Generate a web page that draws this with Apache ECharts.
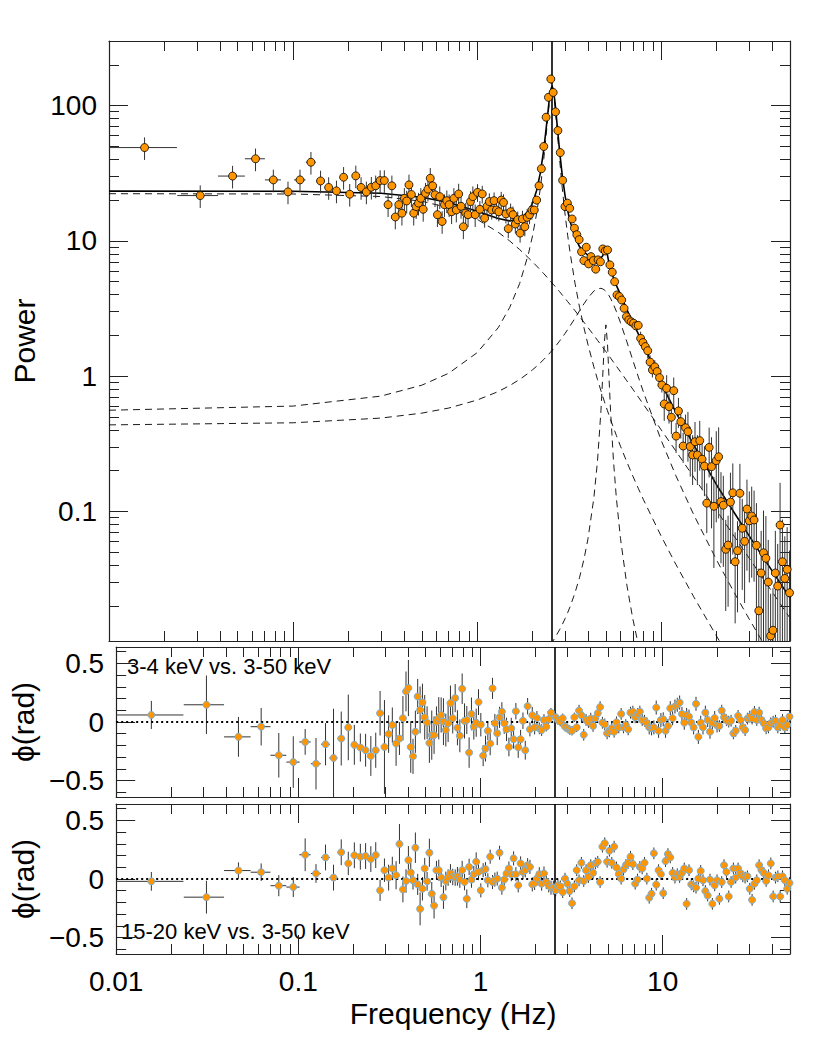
<!DOCTYPE html>
<html>
<head>
<meta charset="utf-8"/>
<title>Power and lag spectra</title>
<script src="https://cdn.jsdelivr.net/npm/echarts@6/dist/echarts.min.js"></script>
</head>
<body style="margin:0;background:#fff;">
<div id="chart" style="width:830px;height:1039px;"></div>
<script>
// frequency bins (Hz), shared by the three panels
var freqs = [
  0.0156, 0.0313, 0.0469, 0.0625, 0.0781, 0.0938, 0.109, 0.125, 0.141, 0.156, 0.172, 0.188,
  0.203, 0.219, 0.234, 0.25, 0.266, 0.281, 0.297, 0.313, 0.328, 0.344, 0.359, 0.375,
  0.390, 0.402, 0.414, 0.426, 0.439, 0.452, 0.466, 0.480, 0.494, 0.509, 0.524, 0.540,
  0.556, 0.573, 0.590, 0.608, 0.626, 0.645, 0.664, 0.684, 0.704, 0.726, 0.747, 0.770,
  0.793, 0.817, 0.841, 0.866, 0.892, 0.919, 0.947, 0.975,
  1.004, 1.034, 1.065, 1.097, 1.130, 1.164, 1.199, 1.235, 1.272, 1.310, 1.350, 1.390,
  1.432, 1.475, 1.519, 1.564, 1.611, 1.660, 1.710, 1.761, 1.814, 1.868, 1.924, 1.982,
  2.041, 2.103, 2.166, 2.231, 2.298, 2.366, 2.437, 2.511,
  2.586, 2.663, 2.743, 2.826, 2.910, 2.998, 3.088, 3.180, 3.276, 3.374, 3.475, 3.579,
  3.687, 3.797, 3.911, 4.029, 4.149, 4.274, 4.402, 4.534, 4.670, 4.810, 4.955, 5.103,
  5.256, 5.414, 5.577, 5.744, 5.916, 6.094, 6.276, 6.465, 6.659, 6.859, 7.064, 7.276,
  7.494, 7.719, 7.951, 8.189, 8.435, 8.688, 8.949, 9.217, 9.494, 9.779,
  10.07, 10.37, 10.69, 11.01, 11.34, 11.68, 12.03, 12.39, 12.76, 13.14, 13.54, 13.95,
  14.36, 14.79, 15.24, 15.70, 16.17, 16.65, 17.15, 17.66, 18.19, 18.74, 19.30, 19.88,
  20.48, 21.09, 21.72, 22.38, 23.05, 23.74, 24.45, 25.18, 25.94, 26.72, 27.52, 28.34,
  29.19, 30.07, 30.97, 31.90, 32.86, 33.84, 34.86, 35.90, 36.98, 38.09, 39.23, 40.41,
  41.62, 42.87, 44.16, 45.48, 46.85, 48.25, 49.70
];
var linearBinCount = 24;     // the lowest bins are 1/64 Hz wide
var linearBinHalf = 0.0078;

// power spectrum
var power = [
  48.9, 21.6, 30.1, 40.4, 28.2, 23.0, 28.2, 38.1, 27.7, 24.8, 23.4, 29.5,
  22.1, 30.2, 24.8, 23.0, 24.9, 25.5, 27.9, 27.9, 18.5, 25.5, 15.0, 18.5,
  16.0, 20.6, 19.7, 25.9, 22.0, 16.0, 17.9, 19.0, 20.6, 17.1, 22.5, 24.1,
  29.0, 25.5, 21.9, 15.6, 21.2, 13.9, 18.5, 19.8, 18.5, 16.4, 20.6, 16.9,
  22.2, 18.0, 12.7, 16.0, 15.6, 19.5, 21.2, 15.6,
  22.8, 17.1, 22.2, 14.7, 18.0, 19.5, 16.9, 19.8, 16.9, 16.4, 20.0, 19.2,
  15.8, 12.3, 16.4, 15.6, 13.3, 14.3, 11.4, 14.5, 12.7, 14.9, 15.6, 16.9,
  16.9, 20.0, 25.5, 34.1, 49.8, 82.0, 115, 157,
  125, 89.8, 65.3, 44.9, 28.0, 17.9, 19.0, 17.4, 14.5, 12.4, 11.1, 10.2,
  8.3, 7.14, 8.97, 6.75, 7.64, 7.14, 6.17, 7.23, 7.0, 8.71, 8.41, 8.56,
  6.64, 5.86, 4.99, 3.98, 3.87, 3.65, 3.17, 2.75, 2.60, 2.52, 2.46, 2.35,
  2.37, 1.90, 1.77, 1.65, 1.54, 1.27, 1.11, 1.17, 1.08, 0.973,
  0.859, 0.622, 0.812, 0.594, 0.496, 0.780, 0.360, 0.552, 0.460, 0.304, 0.415, 0.388,
  0.301, 0.261, 0.327, 0.261, 0.333, 0.243, 0.216, 0.115, 0.297, 0.214, 0.109, 0.237,
  0.253, 0.118, 0.111, 0.0524, 0.0563, 0.117, 0.137, 0.0424, 0.0512, 0.136, 0.075, 0.060,
  0.104, 0.0851, 0.0923, 0.0863, 0.0561, 0.0184, 0.035, 0.0494, 0.045, 0.030, 0.0120, 0.0132,
  0.035, 0.028, 0.0792, 0.0424, 0.0319, 0.0372, 0.025
];
// one-sigma error as a fraction of the power
var powerRelErr = [
  0.19, 0.19, 0.19, 0.19, 0.19, 0.19, 0.19, 0.19, 0.19, 0.19, 0.19, 0.19,
  0.19, 0.19, 0.19, 0.19, 0.19, 0.19, 0.19, 0.19, 0.19, 0.19, 0.19, 0.19,
  0.19, 0.19, 0.19, 0.19, 0.19, 0.19, 0.19, 0.19, 0.19, 0.19, 0.19, 0.19,
  0.19, 0.19, 0.19, 0.19, 0.19, 0.19, 0.19, 0.19, 0.19, 0.19, 0.19, 0.19,
  0.19, 0.19, 0.19, 0.19, 0.19, 0.19, 0.19, 0.19,
  0.15, 0.15, 0.15, 0.15, 0.15, 0.15, 0.15, 0.15, 0.15, 0.15, 0.15, 0.15,
  0.15, 0.15, 0.15, 0.15, 0.15, 0.15, 0.15, 0.15, 0.15, 0.15, 0.15, 0.15,
  0.07, 0.07, 0.07, 0.07, 0.07, 0.07, 0.07, 0.07,
  0.07, 0.07, 0.07, 0.07, 0.07, 0.07, 0.07, 0.05, 0.05, 0.05, 0.05, 0.05,
  0.05, 0.05, 0.05, 0.05, 0.05, 0.05, 0.05, 0.05, 0.05, 0.05, 0.05, 0.05,
  0.05, 0.05, 0.05, 0.05, 0.05, 0.05, 0.05, 0.05, 0.05, 0.05, 0.05, 0.05,
  0.05, 0.12, 0.12, 0.12, 0.12, 0.12, 0.12, 0.12, 0.12, 0.12,
  0.12, 0.25, 0.25, 0.25, 0.25, 0.25, 0.25, 0.25, 0.25, 0.25, 0.25, 0.40,
  0.40, 0.40, 0.40, 0.40, 0.40, 0.40, 0.40, 0.40, 0.40, 0.65, 0.65, 0.65,
  0.65, 0.65, 0.65, 0.65, 0.65, 0.65, 0.65, 0.65, 0.65, 0.65, 0.65, 0.65,
  0.65, 0.65, 0.65, 0.65, 1.05, 1.05, 1.05, 1.05, 1.05, 1.05, 1.05, 1.05,
  1.05, 1.05, 1.05, 1.05, 1.05, 1.05, 1.05
];

// lag of 3-4 keV against 3-50 keV (rad)
var lagSoft = [
  0.060, 0.147, -0.127, -0.040, -0.284, -0.342, -0.170, -0.356, -0.190, -0.307, -0.141, -0.046,
  -0.195, -0.218, -0.241, -0.290, -0.241, 0.075, -0.213, -0.103, -0.026, -0.184, -0.141, 0.032,
  0.261, 0.290, -0.213, -0.293, -0.083, 0.218, 0.103, 0.167, 0.040, -0.006, -0.179, -0.112,
  -0.112, 0.003, 0.032, 0.060, 0.003, -0.069, -0.011, 0.161, 0.032, 0.204, -0.049, -0.118,
  0.284, 0.009, 0.017, -0.261, 0.069, -0.040, -0.006, 0.170,
  -0.023, -0.287, -0.227, -0.075, -0.184, 0.287, -0.011, -0.097, 0.040, 0.089, -0.011, -0.063,
  -0.213, -0.054, -0.147, 0.092, -0.216, -0.147, 0.011, -0.241, 0.135, -0.063, 0.058, -0.046,
  0.034, -0.054, -0.069, 0.017, -0.040, 0.023, 0.080, null,
  0.040, 0.017, 0.003, 0.032, -0.040, -0.054, -0.069, -0.075, 0.040, -0.046, 0.097, 0.058,
  -0.109, 0.017, 0.000, 0.029, -0.034, 0.032, 0.075, 0.127, -0.006, -0.020, -0.097, -0.080,
  -0.054, -0.083, -0.003, -0.046, 0.069, -0.046, -0.026, -0.063, 0.080, 0.089, 0.040, 0.069,
  0.089, 0.017, 0.011, -0.011, -0.046, -0.054, -0.046, 0.123, -0.075, 0.017,
  0.023, -0.075, -0.034, 0.118, 0.032, 0.132, 0.147, 0.166, 0.069, -0.006, 0.060, 0.046,
  -0.006, -0.046, 0.155, -0.127, -0.006, -0.046, 0.080, 0.017, -0.083, -0.006, 0.034, -0.029,
  -0.034, 0.097, 0.040, 0.017, 0.003, 0.011, -0.097, -0.075, 0.052, 0.017, -0.046, -0.069,
  0.029, 0.046, 0.029, 0.086, 0.017, 0.080, 0.017, -0.011, -0.054, -0.046, -0.011, 0.003,
  0.011, -0.046, -0.026, 0.017, -0.046, -0.026, 0.046
];
var lagSoftErr = [
  0.12, 0.25, 0.17, 0.16, 0.19, 0.22, 0.11, 0.22, 0.18, 0.42, 0.23, 0.28,
  0.17, 0.12, 0.14, 0.17, 0.15, 0.19, 0.40, 0.16, 0.15, 0.19, 0.14, 0.19,
  0.17, 0.24, 0.22, 0.15, 0.18, 0.15, 0.20, 0.16, 0.19, 0.14, 0.17, 0.21,
  0.16, 0.13, 0.18, 0.15, 0.20, 0.14, 0.16, 0.15, 0.13, 0.12, 0.15, 0.14,
  0.13, 0.15, 0.12, 0.13, 0.14, 0.11, 0.12, 0.11,
  0.10, 0.09, 0.11, 0.08, 0.10, 0.09, 0.08, 0.10, 0.09, 0.08, 0.09, 0.10,
  0.08, 0.09, 0.08, 0.07, 0.09, 0.08, 0.07, 0.08, 0.07, 0.06, 0.07, 0.06,
  0.06, 0.05, 0.05, 0.05, 0.04, 0.04, 0.04, 0.04,
  0.04, 0.04, 0.04, 0.04, 0.04, 0.04, 0.04, 0.04, 0.04, 0.04, 0.05, 0.05,
  0.05, 0.05, 0.05, 0.05, 0.05, 0.05, 0.05, 0.05, 0.05, 0.05, 0.05, 0.05,
  0.05, 0.05, 0.05, 0.05, 0.05, 0.05, 0.05, 0.05, 0.05, 0.05, 0.05, 0.05,
  0.05, 0.05, 0.05, 0.05, 0.06, 0.06, 0.06, 0.06, 0.06, 0.06,
  0.06, 0.06, 0.06, 0.06, 0.06, 0.06, 0.06, 0.06, 0.06, 0.06, 0.06, 0.06,
  0.06, 0.06, 0.06, 0.06, 0.06, 0.06, 0.06, 0.06, 0.06, 0.06, 0.06, 0.06,
  0.05, 0.05, 0.05, 0.05, 0.05, 0.05, 0.05, 0.05, 0.05, 0.05, 0.05, 0.05,
  0.05, 0.05, 0.05, 0.05, 0.05, 0.05, 0.05, 0.05, 0.05, 0.05, 0.05, 0.05,
  0.05, 0.05, 0.05, 0.05, 0.05, 0.05, 0.05
];

// lag of 15-20 keV against 3-50 keV (rad)
var lagHard = [
  -0.020, -0.155, 0.072, 0.058, -0.057, -0.069, 0.207, 0.047, 0.184, 0.012, 0.228, 0.133,
  0.202, 0.190, 0.196, 0.170, 0.204, -0.097, 0.075, 0.012, 0.090, 0.032, 0.299, -0.089,
  -0.017, 0.161, 0.055, -0.011, 0.267, -0.046, -0.255, -0.083, 0.090, -0.020, 0.224, -0.126,
  -0.227, 0.075, 0.075, 0.012, -0.155, -0.017, 0.012, 0.047, 0.017, 0.012, 0.023, -0.005,
  0.075, -0.026, -0.169, 0.103, -0.005, 0.041, 0.147, 0.060,
  -0.097, 0.075, 0.084, -0.011, 0.190, -0.026, -0.005, 0.003, 0.224, -0.074, -0.005, 0.047,
  0.090, 0.041, 0.176, 0.041, -0.054, 0.133, 0.060, 0.075, 0.118, 0.103, -0.046, -0.034,
  0.003, 0.041, -0.040, 0.047, -0.026, -0.054, -0.074, -0.074,
  -0.097, -0.054, -0.063, -0.112, 0.003, -0.040, -0.103, -0.207, -0.063, 0.075, -0.011, 0.138,
  -0.017, 0.075, 0.017, 0.118, 0.052, 0.133, 0.147, -0.026, 0.276, 0.305, 0.147, 0.241,
  0.138, 0.276, 0.098, 0.041, 0.003, 0.081, 0.118, 0.138, 0.190, 0.127, -0.040, -0.005,
  0.103, 0.090, 0.138, 0.003, -0.160, -0.126, 0.219, -0.048, 0.075, 0.041,
  -0.121, 0.153, 0.213, 0.184, 0.052, 0.012, 0.041, 0.017, 0.052, 0.090, -0.212, 0.075,
  -0.046, -0.063, -0.074, 0.003, 0.069, -0.011, -0.103, -0.141, -0.005, -0.212, -0.054, -0.011,
  -0.169, -0.026, 0.118, 0.060, -0.149, -0.026, 0.090, 0.012, 0.090, 0.047, 0.023, 0.012,
  0.023, -0.083, -0.178, -0.040, -0.011, 0.118, 0.075, 0.052, -0.017, 0.032, 0.133, -0.149,
  0.012, 0.023, -0.149, 0.023, -0.011, -0.083, -0.034
];
var lagHardErr = [
  0.08, 0.14, 0.07, 0.075, 0.09, 0.085, 0.14, 0.08, 0.11, 0.11, 0.11, 0.10,
  0.11, 0.11, 0.11, 0.11, 0.11, 0.09, 0.10, 0.11, 0.10, 0.12, 0.17, 0.11,
  0.10, 0.12, 0.09, 0.08, 0.13, 0.09, 0.14, 0.10, 0.09, 0.08, 0.12, 0.10,
  0.11, 0.08, 0.09, 0.08, 0.10, 0.08, 0.07, 0.08, 0.07, 0.07, 0.08, 0.07,
  0.08, 0.07, 0.08, 0.07, 0.07, 0.07, 0.08, 0.07,
  0.06, 0.06, 0.06, 0.06, 0.06, 0.06, 0.06, 0.06, 0.06, 0.06, 0.06, 0.06,
  0.06, 0.06, 0.06, 0.06, 0.06, 0.06, 0.06, 0.06, 0.06, 0.06, 0.06, 0.06,
  0.06, 0.06, 0.06, 0.06, 0.06, 0.06, 0.06, 0.06,
  0.05, 0.05, 0.05, 0.05, 0.05, 0.05, 0.05, 0.05, 0.05, 0.05, 0.05, 0.05,
  0.05, 0.05, 0.05, 0.05, 0.05, 0.05, 0.05, 0.05, 0.05, 0.05, 0.05, 0.05,
  0.05, 0.05, 0.05, 0.05, 0.05, 0.05, 0.05, 0.05, 0.05, 0.05, 0.05, 0.05,
  0.05, 0.05, 0.05, 0.05, 0.05, 0.05, 0.05, 0.05, 0.05, 0.05,
  0.05, 0.05, 0.05, 0.05, 0.05, 0.05, 0.05, 0.05, 0.05, 0.05, 0.05, 0.05,
  0.05, 0.05, 0.05, 0.05, 0.05, 0.05, 0.05, 0.05, 0.05, 0.05, 0.05, 0.05,
  0.05, 0.05, 0.05, 0.05, 0.05, 0.05, 0.05, 0.05, 0.05, 0.05, 0.05, 0.05,
  0.05, 0.05, 0.05, 0.05, 0.05, 0.05, 0.05, 0.05, 0.05, 0.05, 0.05, 0.05,
  0.05, 0.05, 0.05, 0.05, 0.05, 0.05, 0.05
];

// best-fit model curves (Hz, power)
var modelFreq = [0.01, 0.1, 0.3, 0.5, 0.7, 1.0, 1.3, 1.5, 1.7, 1.9, 2.0, 2.1, 2.2, 2.3, 2.4, 2.45,
  2.5, 2.55, 2.6, 2.65, 2.7, 2.8, 2.9, 3.0, 3.1, 3.2, 3.4, 3.6, 3.8, 4.0, 4.3, 4.5, 4.7, 4.8, 4.9,
  5.0, 5.1, 5.2, 5.3, 5.5, 5.7, 6.0, 6.5, 7.0, 7.5, 8.0, 10, 12, 15, 20, 25, 30, 35, 40, 50];
var modelTotal = [23.30, 23.23, 22.45, 21.00, 19.20, 16.56, 14.62, 14.04, 14.39, 16.58, 19.07, 23.46,
  31.53, 47.44, 79.57, 103.9, 128.4, 139.5, 128.2, 103.6, 78.97, 46.44, 30.10, 21.60, 16.76, 13.80,
  10.58, 9.03, 8.24, 7.83, 7.55, 7.44, 7.49, 7.72, 8.31, 8.73, 7.85, 6.82, 6.15, 5.30, 4.68, 4.00,
  3.10, 2.50, 2.05, 1.70, 0.88, 0.54, 0.31, 0.156, 0.0968, 0.0659, 0.0477, 0.0363, 0.0229];
var modelBroad = [22.30, 22.18, 21.25, 19.61, 17.57, 14.40, 11.57, 9.98, 8.62, 7.48, 6.98, 6.52,
  6.10, 5.71, 5.36, 5.19, 5.03, 4.88, 4.74, 4.60, 4.46, 4.21, 3.97, 3.76, 3.55, 3.37, 3.04, 2.75,
  2.50, 2.28, 2.00, 1.84, 1.70, 1.635, 1.574, 1.515, 1.460, 1.408, 1.359, 1.267, 1.184, 1.075,
  0.922, 0.800, 0.700, 0.617, 0.399, 0.279, 0.179, 0.1011, 0.0648, 0.0451, 0.0331, 0.0254, 0.01624];
var modelQpo = [0.559, 0.600, 0.711, 0.856, 1.049, 1.490, 2.277, 3.205, 4.83, 8.05, 10.98, 15.76,
  24.18, 40.4, 72.8, 97.3, 121.9, 133.1, 121.9, 97.3, 72.8, 40.4, 24.18, 15.76, 10.98, 8.05, 4.83,
  3.205, 2.277, 1.700, 1.172, 0.945, 0.779, 0.711, 0.652, 0.600, 0.554, 0.514, 0.477, 0.415, 0.364,
  0.303, 0.2316, 0.1826, 0.1476, 0.1218, 0.0652, 0.0405, 0.02335, 0.01189, 0.00718, 0.00480,
  0.00344, 0.00258, 0.00161];
var modelHump = [0.4356, 0.4514, 0.489, 0.532, 0.580, 0.665, 0.768, 0.850, 0.944, 1.053, 1.114,
  1.180, 1.251, 1.327, 1.410, 1.454, 1.500, 1.547, 1.597, 1.648, 1.702, 1.813, 1.935, 2.066, 2.207,
  2.358, 2.681, 3.044, 3.420, 3.791, 4.249, 4.423, 4.454, 4.412, 4.334, 4.225, 4.088, 3.929, 3.756,
  3.382, 3.005, 2.482, 1.791, 1.312, 0.986, 0.760, 0.3333, 0.1832, 0.0944, 0.0434, 0.0248, 0.0160,
  0.0112, 0.00826, 0.00502];
var modelHarmonic = [null, null, null, null, null, null, null, null, null, null, null, null, null,
  null, null, null, 0.0103, 0.01075, 0.0112, 0.01168, 0.01219, 0.01331, 0.0146, 0.01609, 0.01782,
  0.01983, 0.02505, 0.0326, 0.0442, 0.0631, 0.1253, 0.234, 0.554, 0.966, 1.747, 2.391, 1.747, 0.966,
  0.554, 0.234, 0.1253, 0.0631, 0.02846, 0.01609, 0.01032, 0.0072, null, null, null, null, null,
  null, null, null, null];
var qpoFreq = 2.55;

// axes
var xMin = 0.01, xMax = 50;
var powMin = 0.011, powMax = 300;
var lagMin = -0.64, lagMax = 0.64;
var xMajorTicks = [0.01, 0.1, 1, 10];
var xMinorTicks = [0.02, 0.03, 0.04, 0.05, 0.06, 0.07, 0.08, 0.09, 0.2, 0.3, 0.4, 0.5, 0.6, 0.7,
  0.8, 0.9, 2, 3, 4, 5, 6, 7, 8, 9, 20, 30, 40];
var powMajorTicks = [0.1, 1, 10, 100];
var powMinorTicks = [0.02, 0.03, 0.04, 0.05, 0.06, 0.07, 0.08, 0.09, 0.2, 0.3, 0.4, 0.5, 0.6, 0.7,
  0.8, 0.9, 2, 3, 4, 5, 6, 7, 8, 9, 20, 30, 40, 50, 60, 70, 80, 90, 200];
var lagMajorTicks = [-0.5, 0, 0.5];
var lagMinorTicks = [-0.6, -0.4, -0.3, -0.2, -0.1, 0.1, 0.2, 0.3, 0.4, 0.6];

var fontName = '"Liberation Sans", Arial, Helvetica, sans-serif';
var frameColor = '#222';
var orange = '#ff9500';
var lagBorder = '#7eaed3';

var oChart = document.getElementById('chart');
var myChart = echarts.init(oChart, null, {renderer: 'svg'});

function tickAxis(gi, pos, type, min, max, ticks, len, showLine, extra) {
  var ax = {
    type: type, gridIndex: gi, position: pos, min: min, max: max,
    splitLine: {show: false},
    axisLine: {show: showLine, onZero: false, lineStyle: {color: frameColor, width: 1.2}},
    axisTick: {show: true, inside: true, length: len, customValues: ticks,
      lineStyle: {color: frameColor, width: 1}},
    axisLabel: {show: false}
  };
  if (type === 'log') ax.logBase = 10;
  return Object.assign(ax, extra || {});
}

function lagLabel(v) {
  if (v === 0) return '0';
  return v < 0 ? '\u2212' + Math.abs(v) : String(v);
}

var labelStyle = {fontFamily: fontName, fontSize: 28, color: '#000'};
var nameStyle = {fontFamily: fontName, fontSize: 30, color: '#000'};

var xAxes = [], yAxes = [];
for (var g = 0; g < 3; g++) {
  var mainX = {};
  if (g === 2) {
    mainX = {
      axisLabel: Object.assign({show: true, customValues: xMajorTicks, margin: 13,
        formatter: function (v) { return String(v); }}, labelStyle),
      name: 'Frequency (Hz)', nameLocation: 'middle', nameGap: 44, nameTextStyle: nameStyle
    };
  }
  xAxes.push(tickAxis(g, 'bottom', 'log', xMin, xMax, xMajorTicks, 19, true, mainX));
  xAxes.push(tickAxis(g, 'bottom', 'log', xMin, xMax, xMinorTicks, 10, false));
  xAxes.push(tickAxis(g, 'top', 'log', xMin, xMax, xMajorTicks, 19, true));
  xAxes.push(tickAxis(g, 'top', 'log', xMin, xMax, xMinorTicks, 10, false));

  if (g === 0) {
    yAxes.push(tickAxis(g, 'left', 'log', powMin, powMax, powMajorTicks, 19, true, {
      axisLabel: Object.assign({show: true, customValues: powMajorTicks, margin: 12,
        formatter: function (v) { return String(v); }}, labelStyle),
      name: 'Power', nameLocation: 'middle', nameGap: 70, nameRotate: 90, nameTextStyle: nameStyle
    }));
    yAxes.push(tickAxis(g, 'left', 'log', powMin, powMax, powMinorTicks, 10, false));
    yAxes.push(tickAxis(g, 'right', 'log', powMin, powMax, powMajorTicks, 19, true));
    yAxes.push(tickAxis(g, 'right', 'log', powMin, powMax, powMinorTicks, 10, false));
  } else {
    yAxes.push(tickAxis(g, 'left', 'value', lagMin, lagMax, lagMajorTicks, 19, true, {
      axisLabel: Object.assign({show: true, customValues: lagMajorTicks, margin: 12,
        formatter: lagLabel}, labelStyle),
      name: '\u03d5(rad)', nameLocation: 'middle', nameGap: 69, nameRotate: 90, nameTextStyle: nameStyle
    }));
    yAxes.push(tickAxis(g, 'left', 'value', lagMin, lagMax, lagMinorTicks, 10, false));
    yAxes.push(tickAxis(g, 'right', 'value', lagMin, lagMax, lagMajorTicks, 19, true));
    yAxes.push(tickAxis(g, 'right', 'value', lagMin, lagMax, lagMinorTicks, 10, false));
  }
}

function points(ys) {
  var out = [];
  for (var i = 0; i < freqs.length; i++) {
    if (ys[i] == null) continue;
    out.push([freqs[i], ys[i]]);
  }
  return out;
}

function errorData(ys, lowHigh) {
  var out = [];
  for (var i = 0; i < freqs.length; i++) {
    if (ys[i] == null) continue;
    var lh = lowHigh(i);
    var hw = i < linearBinCount ? linearBinHalf : 0;
    out.push([freqs[i], ys[i], lh[0], lh[1], freqs[i] - hw, freqs[i] + hw]);
  }
  return out;
}

function renderError(params, api) {
  var a = api.coord([api.value(0), api.value(2)]);
  var b = api.coord([api.value(0), api.value(3)]);
  var c = api.coord([api.value(4), api.value(1)]);
  var d = api.coord([api.value(5), api.value(1)]);
  var st = {stroke: '#333', lineWidth: 1};
  return {type: 'group', children: [
    {type: 'line', shape: {x1: a[0], y1: a[1], x2: b[0], y2: b[1]}, style: st},
    {type: 'line', shape: {x1: c[0], y1: c[1], x2: d[0], y2: d[1]}, style: st}
  ]};
}

function modelLine(ys, dashed, width) {
  var data = [];
  for (var i = 0; i < modelFreq.length; i++) {
    if (ys[i] == null) continue;
    data.push([modelFreq[i], ys[i]]);
  }
  return {
    type: 'line', xAxisIndex: 0, yAxisIndex: 0, data: data, showSymbol: false, silent: true,
    clip: true, z: dashed ? 2 : 3,
    lineStyle: {color: '#000', width: width, type: dashed ? [7, 5] : 'solid'}
  };
}

function vLine(extra) {
  var data = [{xAxis: qpoFreq, lineStyle: {color: '#000', width: 1.6, type: 'solid'}}];
  if (extra) data.unshift(extra);
  return {silent: true, symbol: 'none', label: {show: false}, data: data};
}

var powErr = errorData(power, function (i) {
  var e = power[i] * powerRelErr[i];
  var lo = power[i] - e;
  return [lo > 0 ? lo : 1e-4, power[i] + e];
});
var softErr = errorData(lagSoft, function (i) { return [lagSoft[i] - lagSoftErr[i], lagSoft[i] + lagSoftErr[i]]; });
var hardErr = errorData(lagHard, function (i) { return [lagHard[i] - lagHardErr[i], lagHard[i] + lagHardErr[i]]; });

var zeroLine = {yAxis: 0, lineStyle: {color: '#000', width: 2, type: [2, 3]}};

var option = {
  animation: false,
  backgroundColor: '#fff',
  grid: [
    {left: 109, top: 41, width: 681, height: 600},
    {left: 109, top: 647, width: 681, height: 150},
    {left: 109, top: 804, width: 681, height: 150}
  ],
  xAxis: xAxes,
  yAxis: yAxes,
  graphic: [
    {type: 'text', left: 127, top: 655, style: {text: '3-4 keV vs. 3-50 keV', font: '22px ' + fontName, fill: '#000'}},
    {type: 'text', left: 121, top: 920, style: {text: '15-20 keV vs. 3-50 keV', font: '22px ' + fontName, fill: '#000'}}
  ],
  series: [
    modelLine(modelBroad, true, 0.9),
    modelLine(modelQpo, true, 0.9),
    modelLine(modelHump, true, 0.9),
    modelLine(modelHarmonic, true, 0.9),
    modelLine(modelTotal, false, 1.6),
    {
      type: 'custom', xAxisIndex: 0, yAxisIndex: 0, data: powErr, renderItem: renderError,
      clip: true, silent: true, z: 4, encode: {x: 0, y: 1}
    },
    {
      type: 'scatter', xAxisIndex: 0, yAxisIndex: 0, data: points(power), symbolSize: 8, z: 5,
      itemStyle: {color: orange, borderColor: '#000', borderWidth: 0.8, opacity: 1},
      markLine: vLine()
    },
    {
      type: 'custom', xAxisIndex: 4, yAxisIndex: 4, data: softErr, renderItem: renderError,
      clip: true, silent: true, z: 4, encode: {x: 0, y: 1}
    },
    {
      type: 'scatter', xAxisIndex: 4, yAxisIndex: 4, data: points(lagSoft), symbolSize: 7, z: 5,
      itemStyle: {color: orange, borderColor: lagBorder, borderWidth: 1, opacity: 1},
      markLine: vLine(zeroLine)
    },
    {
      type: 'custom', xAxisIndex: 8, yAxisIndex: 8, data: hardErr, renderItem: renderError,
      clip: true, silent: true, z: 4, encode: {x: 0, y: 1}
    },
    {
      type: 'scatter', xAxisIndex: 8, yAxisIndex: 8, data: points(lagHard), symbolSize: 7, z: 5,
      itemStyle: {color: orange, borderColor: lagBorder, borderWidth: 1, opacity: 1},
      markLine: vLine(zeroLine)
    }
  ]
};

myChart.setOption(option);
</script>
</body>
</html>
